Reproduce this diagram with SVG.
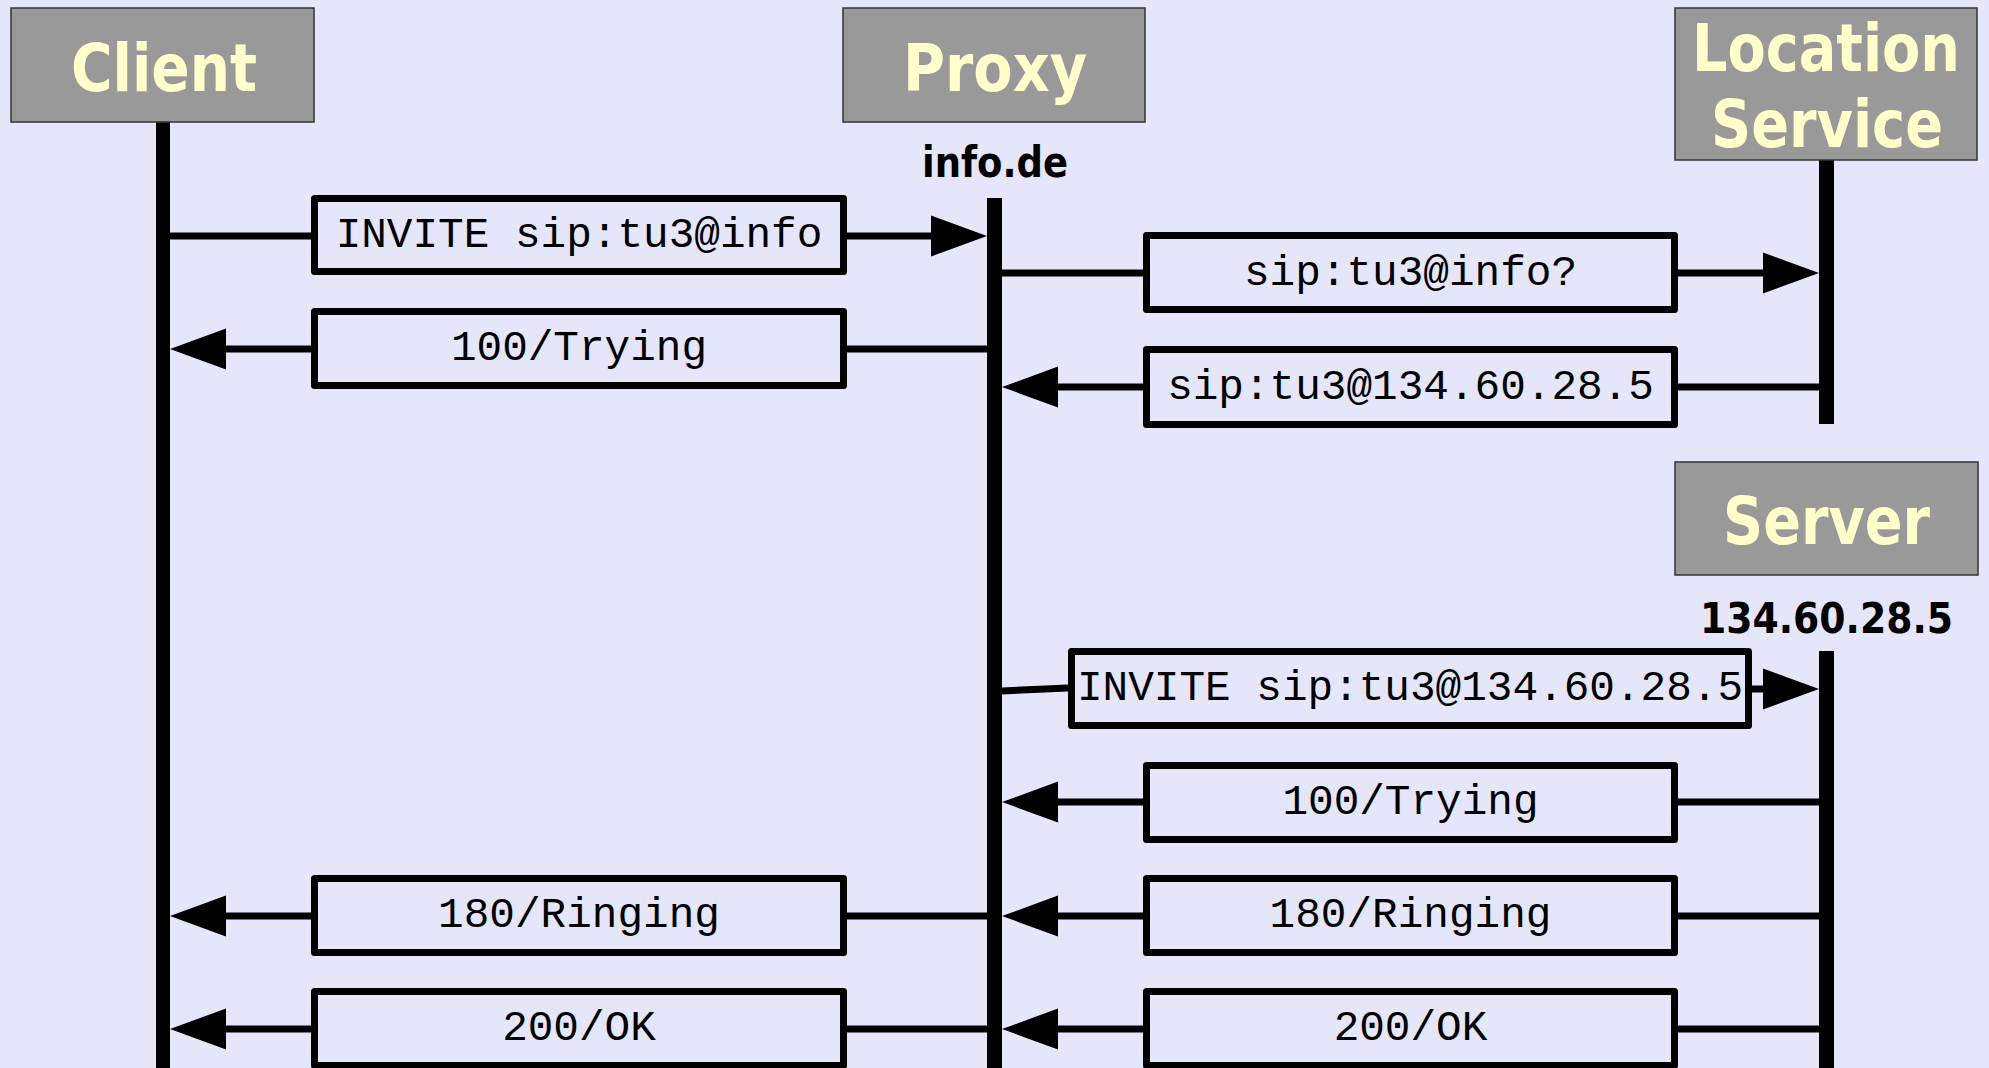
<svg xmlns="http://www.w3.org/2000/svg" width="1989" height="1068" viewBox="0 0 1989 1068">
<style>
.title{fill:#999999;stroke:#333333;stroke-width:1.5}
.ttext{font-family:"DejaVu Sans","Liberation Sans",sans-serif;font-weight:bold;font-size:56px;fill:#FFFFCC;text-anchor:middle}
.host{font-family:"DejaVu Sans","Liberation Sans",sans-serif;font-weight:bold;font-size:37.5px;fill:#000;text-anchor:middle}
.life{stroke:#000;stroke-width:15}
.msg{fill:#E6E6FA;stroke:#000;stroke-width:7;stroke-linejoin:round}
.mtext{font-family:"Liberation Mono","Courier New",monospace;font-size:42.7px;fill:#000;text-anchor:middle}
.conn{stroke:#000;stroke-width:7;fill:none}
.arr{stroke:#000;stroke-width:7;fill:none;marker-end:url(#ah)}
</style>
<defs>
<marker id="ah" markerUnits="userSpaceOnUse" markerWidth="56" markerHeight="41" refX="16" refY="20.5" orient="auto" overflow="visible">
<path d="M0,0 L56,20.5 L0,41 Z" fill="#000"/>
</marker>
</defs>
<rect x="0" y="0" width="1989" height="1068" fill="#E6E6FA"/>

<g id="client">
<line class="life" x1="163" y1="122" x2="163" y2="1068" style="stroke-width:14"/>
<rect class="title" x="11" y="8" width="303" height="114"/>
<text class="ttext" transform="translate(164,91) scale(1,1.16)" x="0" y="0" textLength="186" lengthAdjust="spacingAndGlyphs">Client</text>
</g>

<g id="proxy">
<line class="life" x1="994.5" y1="198" x2="994.5" y2="1068"/>
<rect class="title" x="843" y="8" width="302" height="114"/>
<text class="ttext" transform="translate(995,91) scale(1,1.16)" x="0" y="0" textLength="184" lengthAdjust="spacingAndGlyphs">Proxy</text>
<text class="host" transform="translate(995,177) scale(1,1.12)" x="0" y="0" textLength="146" lengthAdjust="spacingAndGlyphs">info.de</text>
</g>

<g id="location">
<line class="life" x1="1826.5" y1="160" x2="1826.5" y2="424"/>
<rect class="title" x="1675" y="8" width="302" height="152"/>
<text class="ttext" transform="translate(1826,71) scale(1,1.16)" x="0" y="0" textLength="268" lengthAdjust="spacingAndGlyphs">Location</text>
<text class="ttext" transform="translate(1827,147) scale(1,1.16)" x="0" y="0" textLength="232" lengthAdjust="spacingAndGlyphs">Service</text>
</g>

<g id="server">
<line class="life" x1="1826.5" y1="651" x2="1826.5" y2="1068"/>
<rect class="title" x="1675" y="462" width="303" height="113"/>
<text class="ttext" transform="translate(1826.5,544) scale(1,1.16)" x="0" y="0" textLength="207" lengthAdjust="spacingAndGlyphs">Server</text>
<text class="host" transform="translate(1826.5,633) scale(1,1.12)" x="0" y="0" textLength="253" lengthAdjust="spacingAndGlyphs">134.60.28.5</text>
</g>

<g id="connectors">
<g id="m1">
<line class="conn" x1="170" y1="236" x2="311" y2="236"/>
<line class="arr" x1="847" y1="236" x2="947" y2="236"/>
<rect class="msg" x="314.5" y="198.5" width="529" height="73"/>
<text class="mtext" x="579" y="247">INVITE sip:tu3@info</text>
</g>
<g id="m2">
<line class="conn" x1="1002" y1="273" x2="1143" y2="273"/>
<line class="arr" x1="1678" y1="273" x2="1779" y2="273"/>
<rect class="msg" x="1146.5" y="235.5" width="528" height="74"/>
<text class="mtext" x="1410.5" y="285">sip:tu3@info?</text>
</g>
<g id="m3">
<line class="arr" x1="311" y1="349" x2="210" y2="349"/>
<line class="conn" x1="847" y1="349" x2="987" y2="349"/>
<rect class="msg" x="314.5" y="311.5" width="529" height="74"/>
<text class="mtext" x="579" y="360">100/Trying</text>
</g>
<g id="m4">
<line class="arr" x1="1143" y1="387" x2="1042" y2="387"/>
<line class="conn" x1="1678" y1="387" x2="1819" y2="387"/>
<rect class="msg" x="1146.5" y="349.5" width="528" height="75"/>
<text class="mtext" x="1410.5" y="399">sip:tu3@134.60.28.5</text>
</g>
<g id="m5">
<line class="conn" x1="1002" y1="691" x2="1068" y2="688"/>
<line class="arr" x1="1752" y1="689" x2="1779" y2="689"/>
<rect class="msg" x="1071.5" y="651.5" width="677" height="74"/>
<text class="mtext" x="1410" y="700">INVITE sip:tu3@134.60.28.5</text>
</g>
<g id="m6">
<line class="arr" x1="1143" y1="802" x2="1042" y2="802"/>
<line class="conn" x1="1678" y1="802" x2="1819" y2="802"/>
<rect class="msg" x="1146.5" y="765.5" width="528" height="74"/>
<text class="mtext" x="1410.5" y="814">100/Trying</text>
</g>
<g id="m7">
<line class="arr" x1="1143" y1="916" x2="1042" y2="916"/>
<line class="conn" x1="1678" y1="916" x2="1819" y2="916"/>
<rect class="msg" x="1146.5" y="878.5" width="528" height="74"/>
<text class="mtext" x="1410.5" y="927">180/Ringing</text>
</g>
<g id="m8">
<line class="arr" x1="311" y1="916" x2="210" y2="916"/>
<line class="conn" x1="847" y1="916" x2="987" y2="916"/>
<rect class="msg" x="314.5" y="878.5" width="529" height="74"/>
<text class="mtext" x="579" y="927">180/Ringing</text>
</g>
<g id="m9">
<line class="arr" x1="1143" y1="1029" x2="1042" y2="1029"/>
<line class="conn" x1="1678" y1="1029" x2="1819" y2="1029"/>
<rect class="msg" x="1146.5" y="991.5" width="528" height="74"/>
<text class="mtext" x="1410.5" y="1040">200/OK</text>
</g>
<g id="m10">
<line class="arr" x1="311" y1="1029" x2="210" y2="1029"/>
<line class="conn" x1="847" y1="1029" x2="987" y2="1029"/>
<rect class="msg" x="314.5" y="991.5" width="529" height="74"/>
<text class="mtext" x="579" y="1040">200/OK</text>
</g>
</g>
</svg>
